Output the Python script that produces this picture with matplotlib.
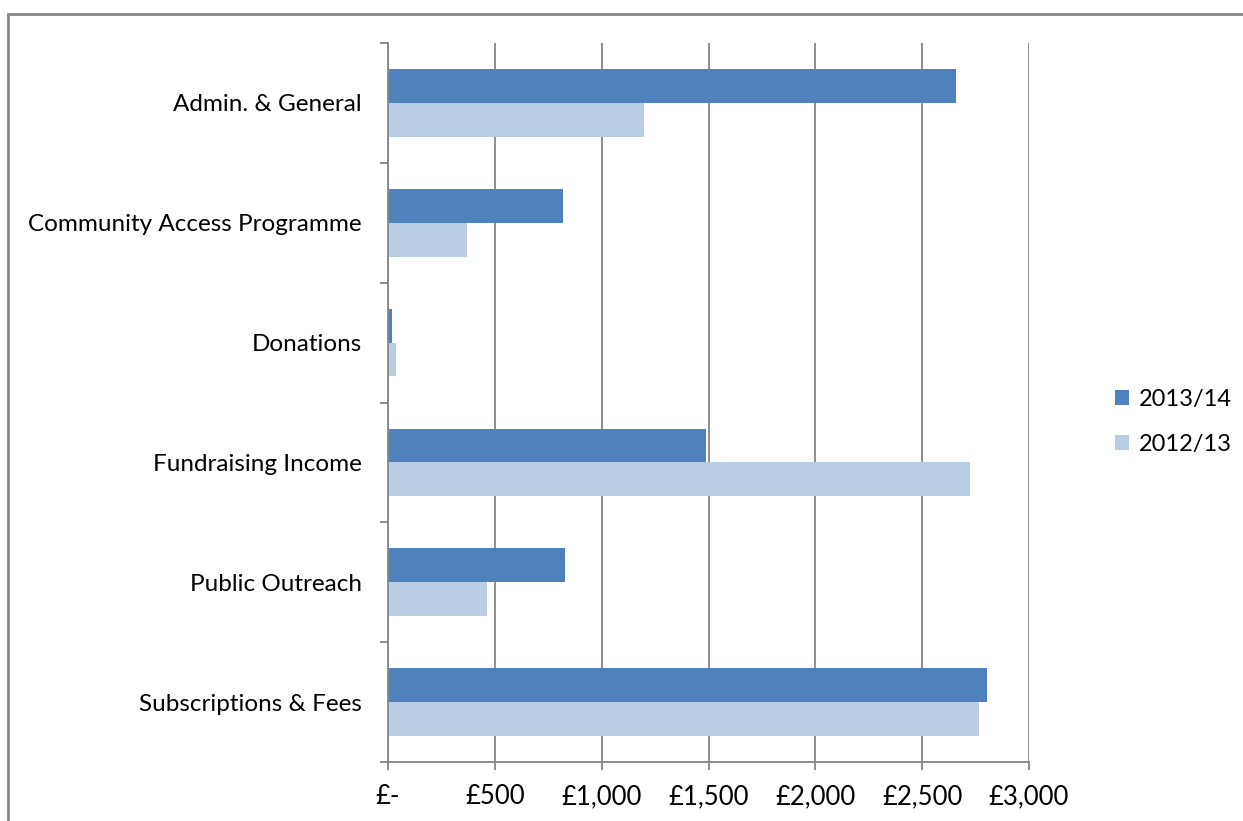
import numpy as np
import matplotlib.pyplot as plt
from matplotlib.patches import Rectangle
from matplotlib.ticker import FixedLocator, FuncFormatter

categories = ['Admin. & General', 'Community Access Programme', 'Donations',
              'Fundraising Income', 'Public Outreach', 'Subscriptions & Fees']
fy_2013_14 = [2658, 819, 19, 1488, 828, 2803]
fy_2012_13 = [1198, 370, 37, 2723, 463, 2766]
x_ticks = [0, 500, 1000, 1500, 2000, 2500, 3000]

plt.rcParams['font.family'] = ['Lato', 'DejaVu Sans']
grey = '#868686'

fig = plt.figure(figsize=(12.43, 8.21), dpi=100)
ax = fig.add_axes([388 / 1243, 1 - 762 / 821, (1029 - 388) / 1243, (762 - 43) / 821])

y = np.arange(len(categories))
h = 0.283
ax.barh(y - h / 2, fy_2013_14, height=h, color='#4F81BD', label='2013/14', zorder=3)
ax.barh(y + h / 2, fy_2012_13, height=h, color='#B9CDE5', label='2012/13', zorder=3)

ax.set_xlim(0, 3000)
ax.set_ylim(len(categories) - 0.5, -0.5)
ax.set_xticks(x_ticks)
ax.xaxis.set_major_formatter(FuncFormatter(lambda v, p: '£-' if v == 0 else f'£{int(v):,}'))
ax.grid(axis='x', color=grey, linewidth=1.3, zorder=0)

ax.set_yticks(y)
ax.set_yticklabels(categories)
ax.yaxis.set_minor_locator(FixedLocator(np.arange(-0.5, len(categories), 1)))
ax.tick_params(axis='y', which='major', length=0, pad=19, labelsize=17.5)
ax.tick_params(axis='y', which='minor', length=6, width=1.3, color=grey, direction='out')
ax.tick_params(axis='x', length=6, width=1.3, color=grey, direction='out', pad=10, labelsize=18.5)

for s in ['top', 'right']:
    ax.spines[s].set_visible(False)
for s in ['left', 'bottom']:
    ax.spines[s].set_color(grey)
    ax.spines[s].set_linewidth(1.3)
    ax.spines[s].set_zorder(4)

fig.legend(loc='center left', bbox_to_anchor=(1094 / 1243, 1 - 422 / 821), frameon=False,
           fontsize=17, handlelength=0.6, handleheight=0.6, handletextpad=0.4, labelspacing=1.0)

fig.patches.append(Rectangle((8 / 1243, -0.2), 1.2, 1.2 - 14 / 821, transform=fig.transFigure,
                             fill=False, edgecolor=grey, linewidth=2))

fig.savefig('out.png', dpi=100)
